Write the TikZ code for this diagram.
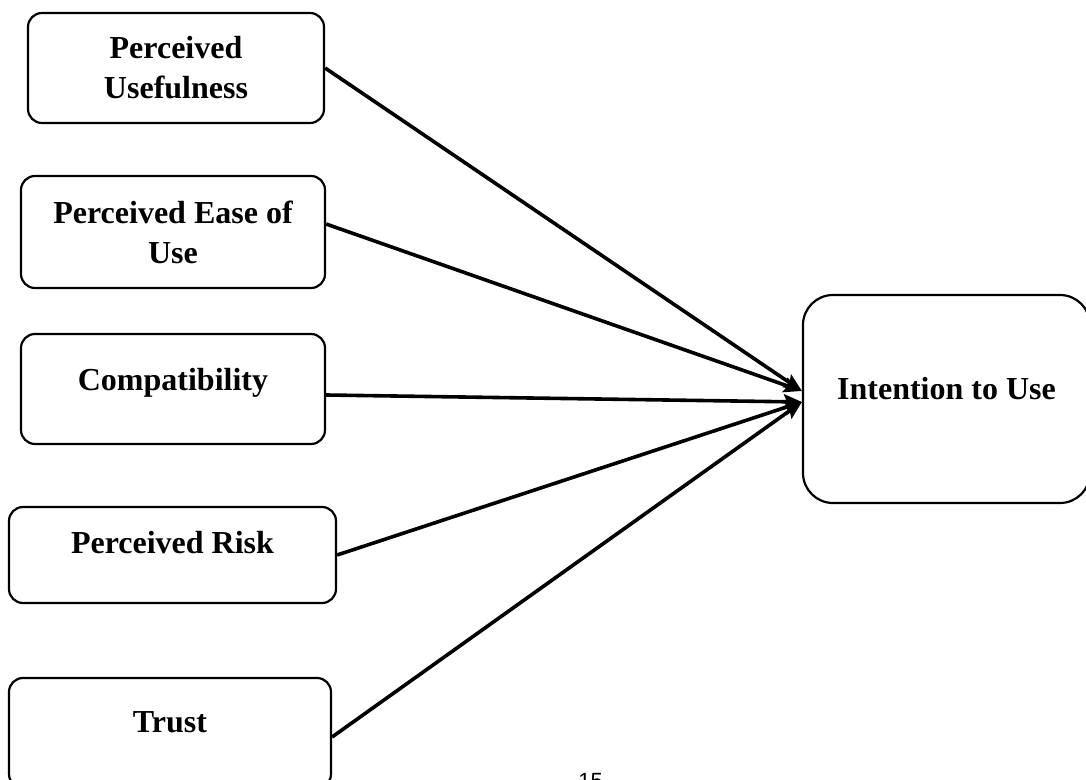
\documentclass[tikz,border=0pt]{standalone}
\usepackage{fontspec}
\setmainfont{Liberation Serif}
\newfontfamily\pagefont{Liberation Sans}
\usetikzlibrary{arrows.meta,positioning}

\begin{document}
\begin{tikzpicture}[
    x=0.5pt, y=-0.5pt,
    factor/.style={rectangle, draw=black, line width=1.1pt, rounded corners=7pt, align=center, inner sep=0pt, font=\bfseries\fontsize{16}{20}\selectfont},
    lift/.style={text height=11pt, text depth=#1},
    arrow/.style={-{Stealth[length=9pt,width=7.5pt,inset=1.5pt]}, line width=1.8pt}
]
\useasboundingbox (0,0) rectangle (1086,780);

% Determinants
\node[factor, minimum width=148pt, minimum height=55pt] (pu) at (176,68) {Perceived\\Usefulness};
\node[factor, minimum width=152pt, minimum height=56pt] (peou) at (173,232) {Perceived Ease of\\Use};
\node[factor, lift=10pt, minimum width=152pt, minimum height=55pt] (comp) at (173,389) {Compatibility};
\node[factor, lift=13pt, minimum width=163.5pt, minimum height=48pt] (risk) at (172.5,555) {Perceived Risk};
\node[factor, lift=12pt, minimum width=161pt, minimum height=55pt] (trust) at (170,733) {Trust};

% Outcome
\node[factor, lift=10pt, rounded corners=15pt, minimum width=143.5pt, minimum height=104pt] (itu) at (946.5,399) {Intention to Use};

% Paths
\draw[arrow] (pu.east) -- ([yshift=4pt]itu.west);
\draw[arrow] ([yshift=4pt]peou.east) -- ([yshift=4pt]itu.west);
\draw[arrow] ([yshift=-3pt]comp.east) -- ([yshift=-1.5pt]itu.west);
\draw[arrow] (risk.east) -- ([yshift=-1.5pt]itu.west);
\draw[arrow] ([yshift=-2pt]trust.east) -- ([yshift=-1.5pt]itu.west);

% page number
\node[font=\pagefont\fontsize{11}{13}\selectfont, anchor=base west, inner sep=0pt] (pagenum) at (578,788) {15};

\end{tikzpicture}
\end{document}
